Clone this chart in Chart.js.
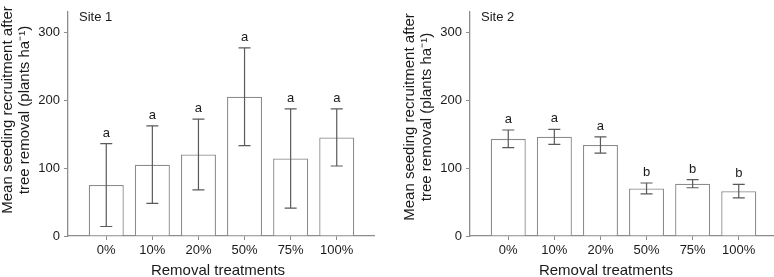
<!DOCTYPE html>
<html>
<head>
<meta charset="utf-8">
<script src="https://cdn.jsdelivr.net/npm/chart.js@4"></script>
<style>
  html, body { margin: 0; padding: 0; background: #fff; overflow: hidden; }
  .panel { position: absolute; top: 0; width: 375px; height: 277px; }
</style>
</head>
<body>
<div class="panel" style="left:0px"><canvas id="site1" width="375" height="277"></canvas></div>
<div class="panel" style="left:402px"><canvas id="site2" width="375" height="277"></canvas></div>
<script>
// treatments and values
var categories = ['0%', '10%', '20%', '50%', '75%', '100%'];
var yTicks = [0, 100, 200, 300];

var site1Means   = [75, 105, 120, 205, 114, 145];
var site1Err     = [61, 57, 52, 72, 73, 42];
var site1Letters = ['a', 'a', 'a', 'a', 'a', 'a'];

var site2Means   = [143, 146, 134, 70, 77, 66];
var site2Err     = [13, 11, 12, 8, 6, 10];
var site2Letters = ['a', 'a', 'a', 'b', 'b', 'b'];

var yTitle = ['Mean seeding recruitment after', 'tree removal (plants ha\u207B\u00B9)'];
var xTitle = 'Removal treatments';

var textColor = '#1a1a1a';
var axisColor = '#8c8c8c';
var fontFamily = '"Liberation Sans", Arial, sans-serif';

// draws error bars, significance letters, site label and axis titles
var errBars = {
    id: 'errbars',
    afterDatasetsDraw: function(chart, args, opts){
	var ctx = chart.ctx;
	var y = chart.scales.y;
	var meta = chart.getDatasetMeta(0);
	ctx.save();
	ctx.strokeStyle = '#5a5a5a';
	ctx.lineWidth = 1.2;
	ctx.fillStyle = textColor;
	ctx.font = '13px ' + fontFamily;
	ctx.textAlign = 'center';
	ctx.textBaseline = 'alphabetic';
	meta.data.forEach(function(bar, i){
	    var v = opts.means[i];
	    var hi = y.getPixelForValue(v + opts.err[i]);
	    var lo = y.getPixelForValue(v - opts.err[i]);
	    var x = bar.x;
	    ctx.beginPath();
	    ctx.moveTo(x, hi); ctx.lineTo(x, lo);
	    ctx.moveTo(x - 6, hi); ctx.lineTo(x + 6, hi);
	    ctx.moveTo(x - 6, lo); ctx.lineTo(x + 6, lo);
	    ctx.stroke();
	    ctx.fillText(opts.letters[i], x, hi - 7);
	});
	ctx.textAlign = 'left';
	ctx.textBaseline = 'middle';
	ctx.fillText(opts.label, chart.chartArea.left + 11, 17);

	// axis titles
	ctx.font = '15px ' + fontFamily;
	ctx.textAlign = 'center';
	ctx.fillText(xTitle, opts.xTitleX, 271);
	yTitle.forEach(function(line, k){
	    ctx.save();
	    ctx.translate(8 + k * 17, opts.yTitleY);
	    ctx.rotate(-Math.PI / 2);
	    ctx.fillText(line, 0, 0);
	    ctx.restore();
	});
	ctx.restore();
    }
};

function makeChart(id, means, err, letters, label, topPad, xTitleX, yTitleY){
    var canvas = document.getElementById(id);
    var points = categories.map(function(c, i){ return {x: i, y: means[i]}; });
    return new Chart(canvas, {
	type: 'bar',
	data: {
	    datasets: [{
		data: points,
		backgroundColor: '#ffffff',
		borderColor: axisColor,
		borderWidth: 1.3,
		barPercentage: 0.76,
		categoryPercentage: 1
	    }]
	},
	plugins: [errBars],
	options: {
	    responsive: false,
	    animation: false,
	    devicePixelRatio: 1,
	    layout: { padding: { top: topPad, left: 0, right: 0, bottom: 0 } },
	    plugins: {
		legend: { display: false },
		tooltip: { enabled: false },
		errbars: { means: means, err: err, letters: letters, label: label,
			   xTitleX: xTitleX, yTitleY: yTitleY }
	    },
	    scales: {
		x: {
		    type: 'linear',
		    offset: false,
		    min: -0.83,
		    max: 5.83,
		    afterBuildTicks: function(scale){
			scale.ticks = categories.map(function(c, i){ return {value: i}; });
		    },
		    afterFit: function(scale){ scale.height = 41; },
		    ticks: {
			autoSkip: false,
			maxRotation: 0,
			padding: 3,
			color: textColor,
			font: { family: fontFamily, size: 13 },
			callback: function(v){ return categories[v]; }
		    },
		    grid: { display: true, offset: false, drawOnChartArea: false, drawTicks: true, tickLength: 4, color: axisColor },
		    border: { display: true, color: axisColor, width: 1.3 }
		},
		y: {
		    min: 0,
		    max: 330,
		    afterBuildTicks: function(scale){
			scale.ticks = yTicks.map(function(v){ return {value: v}; });
		    },
		    afterFit: function(scale){ scale.width = 68; },
		    ticks: {
			padding: 4,
			color: textColor,
			font: { family: fontFamily, size: 13 }
		    },
		    grid: { display: true, drawOnChartArea: false, drawTicks: true, tickLength: 4, color: axisColor },
		    border: { display: true, color: axisColor, width: 1.3 }
		}
	    }
	}
    });
}

var chart1 = makeChart('site1', site1Means, site1Err, site1Letters, 'Site 1', 0, 218, 110);
var chart2 = makeChart('site2', site2Means, site2Err, site2Letters, 'Site 2', 3, 204, 117);
</script>
</body>
</html>
